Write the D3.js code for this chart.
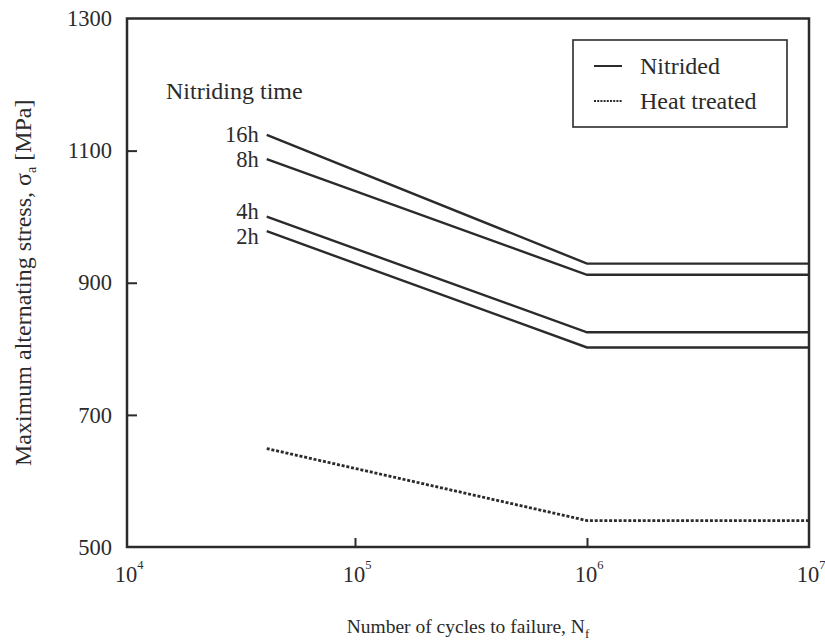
<!DOCTYPE html>
<html>
<head>
<meta charset="utf-8">
<script src="https://cdn.jsdelivr.net/npm/d3@7"></script>
<style>
  html, body { margin: 0; padding: 0; background: #fff; }
  svg text { font-family: "Liberation Serif", "Times New Roman", serif; fill: #2b2b2b; }
</style>
</head>
<body>
<svg id="chart" width="825" height="644"></svg>
<script>
// data
const nitridingTimes = ['16h', '8h', '4h', '2h'];
const nitridedStartStress = [1124, 1087, 1000, 978];   // MPa at N = 4.1e4
const nitridedLimitStress = [929, 912, 825, 802];      // MPa from 1e6 on
const heatTreatedStress = [649, 540, 540];
const cyclePoints = [4.1e4, 1e6, 1e7];
const xTickValues = [1e4, 1e5, 1e6, 1e7];
const yTickValues = [500, 700, 900, 1100, 1300];
const legendLabels = ['Nitrided', 'Heat treated'];

const ink = '#2b2b2b';
const tickFont = 22.5;
const textFont = 24;

const svg = d3.select('#chart');

const plot = { left: 127, right: 809, top: 18.5, bottom: 547 };

// decades in the original are not quite equal, so a piecewise log scale
const x = d3.scaleLog()
  .domain(xTickValues)
  .range([plot.left, 355, 587, plot.right]);

const y = d3.scaleLinear()
  .domain([500, 1300])
  .range([plot.bottom, plot.top]);

const line = d3.line()
  .x(d => x(d[0]))
  .y(d => y(d[1]));

/**
 * Axes (inner ticks, labels drawn by hand for the superscripts)
 */
const yAxis = svg.append('g')
  .attr('transform', `translate(${plot.left},0)`)
  .call(d3.axisLeft(y).tickValues(yTickValues.slice(1, -1)).tickSize(-10).tickFormat(''));
yAxis.select('.domain').remove();
yAxis.selectAll('line').attr('stroke', ink).attr('stroke-width', 2);

const xAxis = svg.append('g')
  .attr('transform', `translate(0,${plot.bottom})`)
  .call(d3.axisBottom(x).tickValues(xTickValues.slice(1, -1)).tickSize(-9).tickFormat(''));
xAxis.select('.domain').remove();
xAxis.selectAll('line').attr('stroke', ink).attr('stroke-width', 2);

svg.append('g')
  .selectAll('text')
  .data(yTickValues)
  .join('text')
  .attr('x', 112)
  .attr('y', d => y(d))
  .attr('dy', '0.34em')
  .attr('text-anchor', 'end')
  .attr('font-size', tickFont)
  .text(d => d);

const xLabels = svg.append('g')
  .selectAll('text')
  .data(xTickValues)
  .join('text')
  .attr('x', d => x(d) - tickFont / 2 - 1)
  .attr('y', 582)
  .attr('font-size', tickFont);
xLabels.append('tspan').text('10');
xLabels.append('tspan')
  .attr('dy', -13)
  .attr('font-size', 12.5)
  .text(d => Math.round(Math.log10(d)));

/**
 * Frame
 */
svg.append('rect')
  .attr('x', plot.left)
  .attr('y', plot.top)
  .attr('width', plot.right - plot.left)
  .attr('height', plot.bottom - plot.top)
  .attr('fill', 'none')
  .attr('stroke', ink)
  .attr('stroke-width', 2.5);

/**
 * Curves
 */
const nitrided = nitridingTimes.map((t, i) => ({
  label: t,
  values: [
    [cyclePoints[0], nitridedStartStress[i]],
    [cyclePoints[1], nitridedLimitStress[i]],
    [cyclePoints[2], nitridedLimitStress[i]]
  ]
}));

svg.append('g')
  .selectAll('path')
  .data(nitrided)
  .join('path')
  .attr('d', d => line(d.values))
  .attr('fill', 'none')
  .attr('stroke', ink)
  .attr('stroke-width', 2.4);

svg.append('path')
  .datum(cyclePoints.map((c, i) => [c, heatTreatedStress[i]]))
  .attr('d', line)
  .attr('fill', 'none')
  .attr('stroke', ink)
  .attr('stroke-width', 2.8)
  .attr('stroke-dasharray', '3,1.8');

// labels at the left ends, pushed apart where two lines are close
const minGap = 25;
const labelY = nitrided.map(d => y(d.values[0][1]));
for (let i = 0; i < labelY.length - 1; i += 2) {
  const gap = labelY[i + 1] - labelY[i];
  if (gap < minGap) {
    const mid = (labelY[i] + labelY[i + 1]) / 2;
    labelY[i] = mid - minGap / 2;
    labelY[i + 1] = mid + minGap / 2;
  }
}

svg.append('g')
  .selectAll('text')
  .data(nitrided)
  .join('text')
  .attr('x', x(cyclePoints[0]) - 8)
  .attr('y', (d, i) => labelY[i])
  .attr('dy', '0.34em')
  .attr('text-anchor', 'end')
  .attr('font-size', tickFont)
  .text(d => d.label);

svg.append('text')
  .attr('x', 166)
  .attr('y', 99)
  .attr('font-size', textFont)
  .text('Nitriding time');

/**
 * Legend
 */
const legend = svg.append('g');
legend.append('rect')
  .attr('x', 573)
  .attr('y', 40)
  .attr('width', 214)
  .attr('height', 87)
  .attr('fill', '#fff')
  .attr('stroke', ink)
  .attr('stroke-width', 1.6);

const legendRows = legend.selectAll('g.row')
  .data(legendLabels)
  .join('g')
  .attr('class', 'row')
  .attr('transform', (d, i) => `translate(594,${66 + i * 35})`);

legendRows.append('line')
  .attr('x1', 0)
  .attr('x2', 28)
  .attr('stroke', ink)
  .attr('stroke-width', 2)
  .attr('stroke-dasharray', (d, i) => i ? '2,1.2' : null);

legendRows.append('text')
  .attr('x', 46)
  .attr('dy', '0.34em')
  .attr('font-size', textFont)
  .text(d => d);

/**
 * Axis titles
 */
const xTitle = svg.append('text')
  .attr('x', (plot.left + plot.right) / 2)
  .attr('y', 633)
  .attr('text-anchor', 'middle')
  .attr('font-size', 19.5);
xTitle.append('tspan').text('Number of cycles to failure, N');
xTitle.append('tspan').attr('dy', 5).attr('font-size', 13).text('f');

const yTitle = svg.append('text')
  .attr('transform', `translate(31,${(plot.top + plot.bottom) / 2}) rotate(-90)`)
  .attr('text-anchor', 'middle')
  .attr('font-size', textFont);
yTitle.append('tspan').text('Maximum alternating stress, σ');
yTitle.append('tspan').attr('dy', 5).attr('font-size', 14).text('a');
yTitle.append('tspan').attr('dy', -5).text(' [MPa]');
</script>
</body>
</html>
